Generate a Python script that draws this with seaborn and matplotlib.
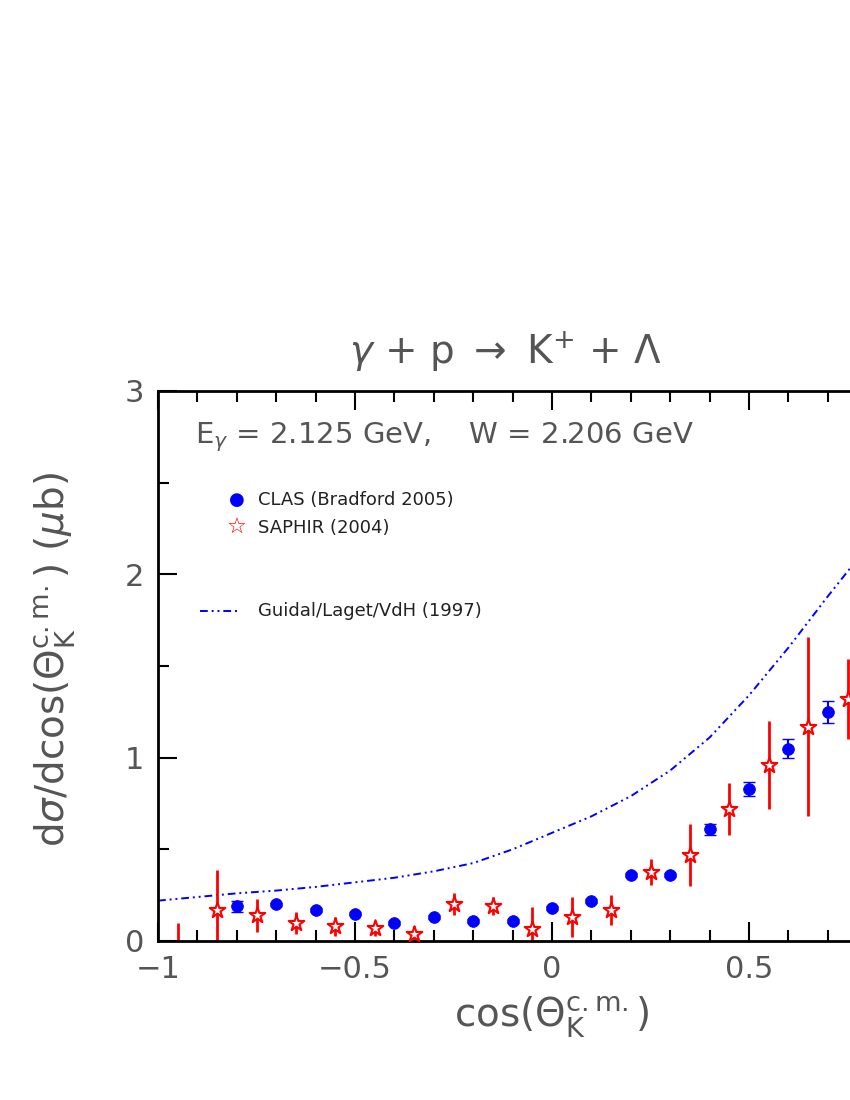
import matplotlib
matplotlib.use("Agg")
import matplotlib.pyplot as plt
import seaborn as sns
import pandas as pd

clas_x = [-0.8, -0.7, -0.6, -0.5, -0.4, -0.3, -0.2, -0.1, 0.0, 0.1, 0.2, 0.3, 0.4, 0.5, 0.6, 0.7]
clas_y = [0.19, 0.20, 0.17, 0.15, 0.10, 0.13, 0.11, 0.11, 0.18, 0.22, 0.36, 0.36, 0.61, 0.83, 1.05, 1.25]
clas_e = [0.03, 0.01, 0.01, 0.01, 0.01, 0.01, 0.01, 0.01, 0.01, 0.01, 0.01, 0.01, 0.03, 0.04, 0.05, 0.06]

saphir_x = [-0.95, -0.85, -0.75, -0.65, -0.55, -0.45, -0.35, -0.25, -0.15, -0.05, 0.05, 0.15, 0.25, 0.35, 0.45, 0.55, 0.65, 0.75]
saphir_y = [0.0, 0.17, 0.14, 0.10, 0.08, 0.07, 0.04, 0.20, 0.19, 0.065, 0.13, 0.17, 0.375, 0.47, 0.72, 0.96, 1.17, 1.32]
saphir_e = [0.10, 0.22, 0.09, 0.06, 0.05, 0.04, 0.04, 0.06, 0.05, 0.12, 0.11, 0.08, 0.07, 0.17, 0.14, 0.24, 0.49, 0.22]

model_x = [-1.0, -0.9, -0.8, -0.7, -0.6, -0.5, -0.4, -0.3, -0.2, -0.1, 0.0, 0.1, 0.2, 0.3, 0.4, 0.5, 0.6, 0.7, 0.8]
model_y = [0.22, 0.24, 0.26, 0.275, 0.295, 0.32, 0.345, 0.38, 0.425, 0.50, 0.59, 0.68, 0.79, 0.93, 1.11, 1.34, 1.60, 1.88, 2.15]

TC = "#555555"
fig = plt.figure(figsize=(8.5, 11), dpi=100)
ax = fig.add_axes([158/850, 159/1100, 788/850, 550/1100])

sns.lineplot(x=model_x, y=model_y, ax=ax, color="blue", lw=1.4,
             linestyle=(0, (4, 2, 1, 2, 1, 2)))
ax.errorbar(saphir_x, saphir_y, yerr=saphir_e, fmt="none", ecolor="red", elinewidth=2)
ax.errorbar(clas_x, clas_y, yerr=clas_e, fmt="none", ecolor="blue", elinewidth=1.5, capsize=4)
sns.scatterplot(x=clas_x, y=clas_y, ax=ax, color="blue", s=70, marker="o", edgecolor="blue", zorder=5)
sns.scatterplot(x=saphir_x[1:], y=saphir_y[1:], ax=ax, color="white", s=140, marker="*",
                edgecolor="red", linewidth=1.5, zorder=5)

ax.set_xlim(-1, 1)
ax.set_ylim(0, 3)
ax.set_xticks([-1, -0.5, 0, 0.5, 1])
ax.set_xticklabels(["\u22121", "\u22120.5", "0", "0.5", ""])
ax.set_yticks([0, 1, 2, 3])
ax.set_xticks([i / 10 for i in range(-10, 11)], minor=True)
ax.set_yticks([i / 2 for i in range(7)], minor=True)
ax.tick_params(which="both", direction="in", top=True, right=False, width=1.5,
               labelsize=22, labelcolor=TC, pad=10)
ax.tick_params(which="major", length=14)
ax.tick_params(which="minor", length=8)
for s in ["left", "bottom", "top"]:
    ax.spines[s].set_linewidth(2)
ax.spines["right"].set_visible(False)

ax.set_xlabel(r"cos($\Theta_\mathrm{K}^\mathrm{c.m.}$)", fontsize=28, color=TC, labelpad=8)
fig.text(55/850, 1 - 660/1100, r"d$\sigma$/dcos($\Theta_\mathrm{K}^\mathrm{c.m.}$) ($\mu$b)", rotation=90,
         fontsize=28, color=TC, ha="center", va="center")
fig.text(505/850, 1 - 352/1100, r"$\gamma$ + p $\rightarrow$ K$^{+}$ + $\Lambda$",
         fontsize=28, color=TC, ha="center", va="center")
fig.text(195/850, 1 - 437/1100, r"E$_\gamma$ = 2.125 GeV,    W = 2.206 GeV",
         fontsize=21, color=TC, ha="left", va="center")

# legend
fig.text(237/850, 1 - 500/1100, "\u25cf", color="blue", fontsize=13, ha="center", va="center")
fig.text(237/850, 1 - 528/1100, "\u2606", color="red", fontsize=16, fontweight="bold", ha="center", va="center")
fig.text(258/850, 1 - 500/1100, "CLAS (Bradford 2005)", fontsize=13, color="#222222", va="center")
fig.text(258/850, 1 - 528/1100, "SAPHIR (2004)", fontsize=13, color="#222222", va="center")
fig.lines.append(plt.Line2D([200/850, 238/850], [1 - 611/1100] * 2, transform=fig.transFigure,
                            color="blue", lw=1.4, linestyle=(0, (4, 2, 1, 2, 1, 2))))
fig.text(258/850, 1 - 611/1100, "Guidal/Laget/VdH (1997)", fontsize=13, color="#222222", va="center")

fig.savefig("out.png", dpi=100)
